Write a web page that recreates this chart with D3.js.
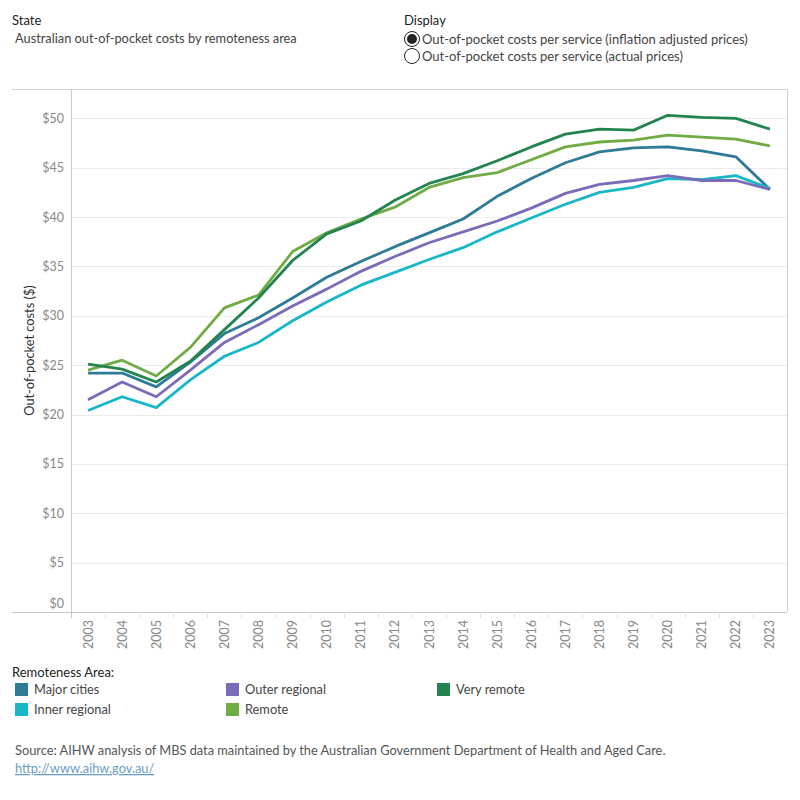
<!DOCTYPE html>
<html lang="en">
<head>
    <meta charset="UTF-8">
    <title>Out-of-pocket costs by remoteness area</title>
    <script src="https://cdn.jsdelivr.net/npm/d3@7"></script>
    <style>
        body { margin: 0; background: #fff; font-family: Lato, "Noto Sans", sans-serif; }
    </style>
</head>
<body>
<div id="chart"></div>
<script>
    var years = [2003, 2004, 2005, 2006, 2007, 2008, 2009, 2010, 2011, 2012, 2013,
                 2014, 2015, 2016, 2017, 2018, 2019, 2020, 2021, 2022, 2023];

    var majorCities   = [24.2, 24.2, 22.8, 25.3, 28.2, 29.8, 31.8, 33.9, 35.5, 37.0, 38.4, 39.8, 42.1, 43.9, 45.5, 46.6, 47.0, 47.1, 46.7, 46.1, 42.8];
    var innerRegional = [20.4, 21.8, 20.7, 23.5, 25.9, 27.3, 29.5, 31.4, 33.1, 34.4, 35.7, 36.9, 38.5, 39.9, 41.3, 42.5, 43.0, 43.9, 43.8, 44.2, 42.9];
    var outerRegional = [21.5, 23.3, 21.8, 24.5, 27.3, 29.1, 31.0, 32.7, 34.5, 36.0, 37.4, 38.5, 39.6, 40.9, 42.4, 43.3, 43.7, 44.2, 43.7, 43.7, 42.8];
    var remote        = [24.5, 25.5, 23.9, 26.8, 30.8, 32.1, 36.5, 38.4, 39.8, 41.0, 43.0, 44.0, 44.5, 45.8, 47.1, 47.6, 47.8, 48.3, 48.1, 47.9, 47.2];
    var veryRemote    = [25.1, 24.6, 23.3, 25.4, 28.6, 31.8, 35.6, 38.3, 39.6, 41.7, 43.4, 44.4, 45.7, 47.1, 48.4, 48.9, 48.8, 50.3, 50.1, 50.0, 48.9];

    var yTicks = [0, 5, 10, 15, 20, 25, 30, 35, 40, 45, 50];

    var series = [
        {name: "Major cities",   values: majorCities,   color: "#2e7b98"},
        {name: "Inner regional", values: innerRegional, color: "#18b7c8"},
        {name: "Outer regional", values: outerRegional, color: "#7b6bb8"},
        {name: "Remote",         values: remote,        color: "#6fac46"},
        {name: "Very remote",    values: veryRemote,    color: "#24844f"}
    ];
    // legend order (column-wise in the picture)
    var legendOrder = ["Major cities", "Inner regional", "Outer regional", "Remote", "Very remote"];

    var svg = d3.select("#chart").append("svg")
            .attr("width", 800)
            .attr("height", 800);

    var textColor = "#333";
    var axisColor = "#888";

    // header
    svg.append("text").attr("x", 12).attr("y", 25)
            .style("font-size", "13px").style("fill", "#222").text("State");
    svg.append("text").attr("x", 15).attr("y", 43)
            .style("font-size", "12.8px").style("fill", "#444")
            .text("Australian out-of-pocket costs by remoteness area");
    svg.append("text").attr("x", 404).attr("y", 25)
            .style("font-size", "13px").style("fill", "#222").text("Display");

    var options = ["Out-of-pocket costs per service (inflation adjusted prices)",
                   "Out-of-pocket costs per service (actual prices)"];
    options.forEach(function (o, i) {
        var cy = 39 + i * 17;
        svg.append("circle").attr("cx", 412).attr("cy", cy).attr("r", 7.5)
                .style("fill", "#fff").style("stroke", "#222").style("stroke-width", 1);
        if (i === 0) {
            svg.append("circle").attr("cx", 412).attr("cy", cy).attr("r", 5).style("fill", "#222");
        }
        svg.append("text").attr("x", 422).attr("y", cy + 4.5)
                .style("font-size", "13px").style("fill", "#444").text(o);
    });

    // plot area
    var pLeft = 71, pRight = 787, pTop = 89, pBottom = 612;

    var x = d3.scaleBand().domain(years).range([pLeft, pRight]);
    var y = d3.scaleLinear().domain([0, 50]).range([pBottom, 118.3]);

    // frame lines
    svg.append("line").attr("x1", 12).attr("x2", pRight).attr("y1", pTop + 0.5).attr("y2", pTop + 0.5)
            .style("stroke", "#cfcfcf");
    svg.append("line").attr("x1", pRight + 0.5).attr("x2", pRight + 0.5).attr("y1", pTop).attr("y2", pBottom)
            .style("stroke", "#cfcfcf");

    // gridlines
    svg.append("g").selectAll("line")
            .data(yTicks.filter(function (d) { return d > 0; }))
            .enter().append("line")
            .attr("x1", pLeft).attr("x2", pRight)
            .attr("y1", function (d) { return Math.round(y(d)) + 0.5; })
            .attr("y2", function (d) { return Math.round(y(d)) + 0.5; })
            .style("stroke", "#ececec");

    // y axis
    var yAxis = svg.append("g")
            .attr("transform", "translate(" + pLeft + ",0)")
            .call(d3.axisLeft(y).tickValues(yTicks).tickSize(0).tickPadding(7)
                    .tickFormat(function (d) { return "$" + d; }));
    yAxis.select(".domain").remove();
    yAxis.selectAll("text").style("font-size", "12.5px").style("fill", axisColor)
            .style("font-family", "Lato, 'Noto Sans', sans-serif")
            .attr("dy", function (d) { return d === 0 ? "-0.4em" : "0.32em"; });
    svg.append("line").attr("x1", pLeft + 0.5).attr("x2", pLeft + 0.5).attr("y1", pTop).attr("y2", pBottom + 6)
            .style("stroke", "#c8c8c8");

    svg.append("text")
            .attr("transform", "translate(34," + ((pTop + pBottom) / 2) + ") rotate(-90)")
            .attr("text-anchor", "middle")
            .style("font-size", "12.8px").style("fill", textColor)
            .text("Out-of-pocket costs ($)");

    // x axis
    svg.append("line").attr("x1", 12).attr("x2", pRight).attr("y1", pBottom + 0.5).attr("y2", pBottom + 0.5)
            .style("stroke", "#c8c8c8");
    svg.append("g").selectAll("line")
            .data(years.slice(1))
            .enter().append("line")
            .attr("x1", function (d) { return Math.round(x(d)) + 0.5; })
            .attr("x2", function (d) { return Math.round(x(d)) + 0.5; })
            .attr("y1", pBottom).attr("y2", pBottom + 6)
            .style("stroke", "#e4e4e4");
    svg.append("g").selectAll("text")
            .data(years)
            .enter().append("text")
            .attr("transform", function (d) {
                return "translate(" + (x(d) + x.bandwidth() / 2 + 4.5) + "," + (pBottom + 8) + ") rotate(-90)";
            })
            .attr("text-anchor", "end")
            .style("font-size", "12.5px").style("fill", axisColor)
            .text(function (d) { return d; });

    // lines
    var line = d3.line()
            .x(function (d, i) { return x(years[i]) + x.bandwidth() / 2; })
            .y(function (d) { return y(d); });

    svg.append("g").selectAll("path")
            .data(series)
            .enter().append("path")
            .attr("d", function (s) { return line(s.values); })
            .style("fill", "none")
            .style("stroke", function (s) { return s.color; })
            .style("stroke-width", 2.8)
            .style("stroke-linejoin", "round");

    // legend
    svg.append("text").attr("x", 12).attr("y", 677)
            .style("font-size", "13px").style("fill", "#222").text("Remoteness Area:");
    var colX = [15, 226, 437];
    legendOrder.forEach(function (name, i) {
        var s = series.find(function (d) { return d.name === name; });
        var col = Math.floor(i / 2), row = i % 2;
        var lx = colX[col], ly = 683 + row * 20;
        svg.append("rect").attr("x", lx).attr("y", ly).attr("width", 13).attr("height", 13)
                .style("fill", s.color);
        svg.append("text").attr("x", lx + 19).attr("y", ly + 11)
                .style("font-size", "12.8px").style("fill", "#444").text(name);
    });

    // source
    svg.append("text").attr("x", 15).attr("y", 755)
            .style("font-size", "12.8px").style("fill", "#555")
            .text("Source: AIHW analysis of MBS data maintained by the Australian Government Department of Health and Aged Care.");
    svg.append("text").attr("x", 15).attr("y", 773)
            .style("font-size", "12.8px").style("fill", "#6c9cc4")
            .style("text-decoration", "underline")
            .text("http://www.aihw.gov.au/");
</script>
</body>
</html>
